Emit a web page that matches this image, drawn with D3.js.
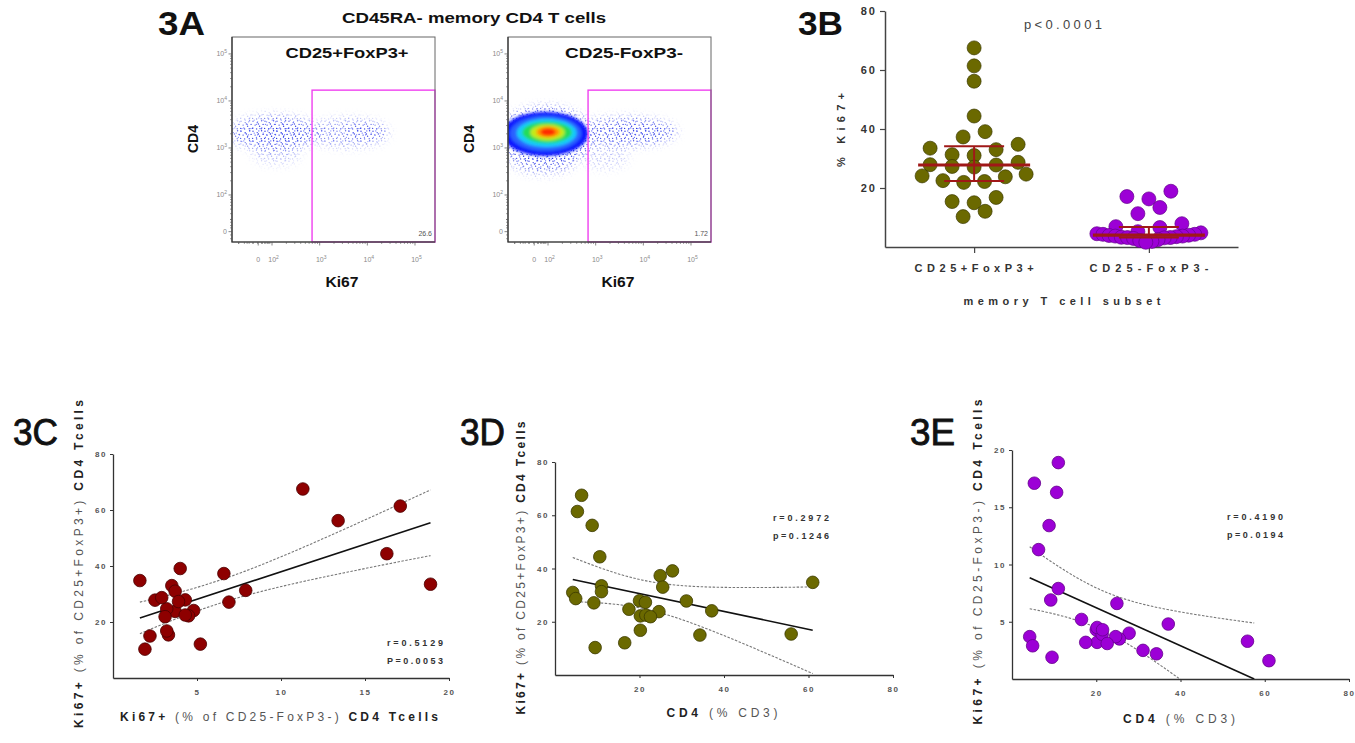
<!DOCTYPE html>
<html><head><meta charset="utf-8">
<script src="https://cdn.jsdelivr.net/npm/d3@7/dist/d3.min.js"></script>
<style>
html,body{margin:0;padding:0;background:#fff;}
svg{display:block;font-family:'Liberation Sans',Arial,Helvetica,sans-serif;}
</style></head><body>
<svg id="fig" width="1355" height="743" viewBox="0 0 1355 743"></svg>
<script>
// ================= DATA =================
const subsetLabels = ["CD25+FoxP3+", "CD25-FoxP3-"];
// one entry per subject
const cd4Pct    = [6.3, 5.3, 8.8, 10.6, 11.0, 61.0, 55.9, 37.1, 34.3, 31.1, 27.8, 24.9, 25.5, 24.6, 9.5, 16.5, 20.2, 17.5, 4.2, 4.9, 11.0, 9.2, 20.0, 21.4, 20.2, 21.5, 22.6];
const ki67Treg  = [67.5, 61.4, 56.2, 44.4, 33.5, 34.8, 15.4, 24.1, 15.0, 27.8, 39.1, 37.3, 33.0, 23.8, 10.3, 12.1, 16.8, 24.7, 31.0, 28.7, 31.3, 27.1, 27.9, 27.3, 22.2, 22.5, 21.9];
const ki67Tconv = [11.3, 17.1, 13.4, 16.3, 18.9, 1.6, 3.3, 4.8, 2.2, 2.5, 4.0, 6.6, 3.5, 3.7, 1.9, 5.2, 3.2, 3.2, 3.7, 2.9, 7.9, 6.9, 4.3, 3.9, 4.5, 4.3, 3.1];

const pctTicks = [20, 40, 60, 80];
const tconvTicks = [5, 10, 15, 20];
const cd4Ticks = [20, 40, 60, 80];
const statsC = ["r=0.5129", "P=0.0053"];
const statsD = ["r=0.2972", "p=0.1246"];
const statsE = ["r=0.4190", "p=0.0194"];
const pValueB = "p<0.0001";

// Flow cytometry (3A): axes in decade units (10^n -> n, biexponential zero near 1.7)
const flowXTickValues = [1.71, 2, 3, 4, 5];
const flowYTickValues = [1.22, 2, 3, 4, 5];
const flowTickExponents = [null, 2, 3, 4, 5];
const flowGate = [2.84, 4.23];              // Ki67 lower bound, CD4 upper bound
const gatePercents = ["26.6", "1.72"];
const flowTitles = ["CD25+FoxP3+", "CD25-FoxP3-"];
// event clouds: [Ki67, CD4, spread Ki67, spread CD4, relative density]
const tregClouds = [
  [2.05, 3.32, 0.95, 0.36, 0.85],
  [2.2, 3.32, 0.45, 0.17, 1.0],
  [3.6, 3.32, 0.85, 0.30, 0.6],
  [3.95, 3.36, 0.38, 0.14, 0.9],
  [2.1, 2.85, 0.5, 0.2, 0.35]
];
const tconvClouds = [
  [1.95, 3.25, 1.0, 0.62, 1.0],
  [3.6, 3.34, 1.1, 0.30, 0.85],
  [3.9, 3.36, 0.5, 0.18, 0.85],
  [1.9, 2.75, 0.7, 0.30, 0.65],
  [3.2, 2.8, 0.5, 0.25, 0.3]
];
// Tconv density contour levels, outer to inner: [Ki67, CD4, radius Ki67, radius CD4]
const tconvDensity = [
  [1.94, 3.30, 0.90, 0.47],
  [1.95, 3.31, 0.75, 0.38],
  [1.97, 3.32, 0.63, 0.30],
  [1.98, 3.33, 0.52, 0.23],
  [1.99, 3.33, 0.36, 0.17],
  [2.00, 3.34, 0.25, 0.12],
  [2.00, 3.34, 0.16, 0.08]
];

// ================= HELPERS =================
const svg = d3.select("#fig");
const defs = svg.append("defs");
const OLIVE = "#6b6900", OLIVE_S = "#3b3a00";
const PURPLE = "#9c00d6", PURPLE_S = "#64008c";
const RED = "#8e0000", RED_S = "#4a0000";
const BAR = "#a01818";
const T_CRIT = 2.0595; // Student t 0.975 quantile, df = n - 2 = 25

function txt(parent, o) {
  const t = parent.append("text")
    .attr("x", o.x).attr("y", o.y)
    .attr("text-anchor", o.anchor || "middle")
    .attr("font-size", o.size)
    .attr("fill", o.fill || "#222");
  if (o.rotate) t.attr("transform", `rotate(-90,${o.x},${o.y})`);
  const parts = Array.isArray(o.text) ? o.text : [[o.text, o.weight || "bold"]];
  parts.forEach(([s, w, f]) => t.append("tspan").attr("font-weight", w).attr("fill", f || null).text(s));
  if (o.len) t.attr("textLength", o.len).attr("lengthAdjust", o.adjust || "spacing");
  if (o.stroke) t.attr("stroke", o.fill || "#222").attr("stroke-width", o.stroke);
  return t;
}

function styleAxis(sel, o) {
  sel.attr("font-family", null).attr("font-size", o.size).attr("font-weight", "bold");
  sel.select(".domain").attr("stroke", o.stroke).attr("stroke-width", o.sw);
  sel.selectAll(".tick line").attr("stroke", o.stroke).attr("stroke-width", o.sw * 0.8);
  sel.selectAll(".tick text").attr("fill", o.fill).attr("letter-spacing", o.ls);
}

// ================= FLOW PANELS (3A) =================
const fb = defs.append("filter").attr("id", "blurMask").attr("x", "-60%").attr("y", "-60%").attr("width", "220%").attr("height", "220%");
fb.append("feGaussianBlur").attr("stdDeviation", 5);
const fl = defs.append("filter").attr("id", "blurLevel").attr("x", "-30%").attr("y", "-30%").attr("width", "160%").attr("height", "160%");
fl.append("feGaussianBlur").attr("stdDeviation", 1.4);

// speckle textures standing in for individual cytometry events
const pA = defs.append("pattern").attr("id", "speckA").attr("patternUnits", "userSpaceOnUse").attr("width", 12).attr("height", 10);
[[1, 1.2], [5.2, 2.6], [9.6, 0.8], [3.1, 5.1], [7.6, 6.2], [11.1, 4.4], [0.6, 8.4], [4.6, 8.9], [9.2, 8.7], [6.4, 4.0]].forEach(d =>
  pA.append("circle").attr("cx", d[0]).attr("cy", d[1]).attr("r", 0.7).attr("fill", "#1c28e0"));
const pB = defs.append("pattern").attr("id", "speckB").attr("patternUnits", "userSpaceOnUse").attr("width", 9).attr("height", 13);
[[2.2, 3.1], [6.8, 0.9], [4.4, 7.3], [0.8, 10.9], [7.9, 11.6], [5.6, 4.8]].forEach(d =>
  pB.append("circle").attr("cx", d[0]).attr("cy", d[1]).attr("r", 0.65).attr("fill", "#4a58ff"));

const densityColors = ["#0a14ff", "#2c62ff", "#14cdfa", "#22dc5a", "#c4ec12", "#ff9a00", "#ff2a00"];

function flowPlot(i, x0, clouds, levels) {
  const y0 = 37, w = 203, h = 205;
  const xs = d3.scaleLinear().domain([1.16, 5.42]).range([x0, x0 + w]);
  const ys = d3.scaleLinear().domain([1.0, 5.36]).range([y0 + h, y0]);
  const g = svg.append("g");
  defs.append("clipPath").attr("id", "fclip" + i).append("rect")
    .attr("x", x0).attr("y", y0).attr("width", w).attr("height", h);
  const m = defs.append("mask").attr("id", "fmask" + i).attr("maskUnits", "userSpaceOnUse")
    .attr("x", x0 - 30).attr("y", y0 - 30).attr("width", w + 60).attr("height", h + 60);
  m.append("g").attr("filter", "url(#blurMask)").selectAll("ellipse").data(clouds).join("ellipse")
    .attr("cx", d => xs(d[0])).attr("cy", d => ys(d[1]))
    .attr("rx", d => xs(d[0] + d[2]) - xs(d[0])).attr("ry", d => ys(d[1]) - ys(d[1] + d[3]))
    .attr("fill", "#fff").attr("fill-opacity", d => d[4]);
  const inner = g.append("g").attr("clip-path", `url(#fclip${i})`);
  ["speckA", "speckB"].forEach(p => inner.append("rect")
    .attr("x", x0).attr("y", y0).attr("width", w).attr("height", h)
    .attr("fill", `url(#${p})`).attr("mask", `url(#fmask${i})`));
  inner.append("g").attr("filter", "url(#blurLevel)").selectAll("ellipse").data(levels).join("ellipse")
    .attr("cx", d => xs(d[0])).attr("cy", d => ys(d[1]))
    .attr("rx", d => xs(d[0] + d[2]) - xs(d[0])).attr("ry", d => ys(d[1]) - ys(d[1] + d[3]))
    .attr("fill", (d, j) => densityColors[j]);

  // gate
  g.append("rect")
    .attr("x", xs(flowGate[0])).attr("y", ys(flowGate[1]))
    .attr("width", xs.range()[1] - xs(flowGate[0])).attr("height", ys(1.0) - ys(flowGate[1]))
    .attr("fill", "none").attr("stroke", "#f040f0").attr("stroke-width", 1.4);
  // frame
  g.append("rect").attr("x", x0).attr("y", y0).attr("width", w).attr("height", h)
    .attr("fill", "none").attr("stroke", "#666").attr("stroke-width", 1);
  g.append("path").attr("d", `M${x0},${y0}V${y0 + h}H${x0 + w}`).attr("fill", "none").attr("stroke", "#333").attr("stroke-width", 1.2);

  // ticks
  const tk = g.append("g").attr("stroke", "#555").attr("stroke-width", 0.7);
  const minor = [];
  [1, 2, 3, 4].forEach(n => d3.range(2, 10).forEach(k => minor.push(n + Math.log10(k))));
  const nearZero = [1.3, 1.42, 1.52, 1.6, 1.8, 1.87, 1.93];
  minor.concat(nearZero).filter(v => v > 1.16 && v < 5.42).forEach(v =>
    tk.append("line").attr("x1", xs(v)).attr("x2", xs(v)).attr("y1", y0 + h).attr("y2", y0 + h + 1.8));
  minor.concat(nearZero.map(v => v - 0.45)).filter(v => v > 1.02 && v < 5.36).forEach(v =>
    tk.append("line").attr("y1", ys(v)).attr("y2", ys(v)).attr("x1", x0).attr("x2", x0 - 1.8));
  flowXTickValues.forEach(v =>
    tk.append("line").attr("x1", xs(v)).attr("x2", xs(v)).attr("y1", y0 + h).attr("y2", y0 + h + 3.5));
  flowYTickValues.forEach(v =>
    tk.append("line").attr("y1", ys(v)).attr("y2", ys(v)).attr("x1", x0).attr("x2", x0 - 3.5));

  const lab = (x, y, e, anchor) => {
    const t = g.append("text").attr("x", x).attr("y", y).attr("font-size", 7).attr("fill", "#8a8a8a").attr("text-anchor", anchor);
    if (e === null) t.text("0");
    else { t.append("tspan").text("10"); t.append("tspan").attr("font-size", 5).attr("dy", -3).text(e); }
  };
  flowXTickValues.forEach((v, j) => lab(xs(v) + (j === 0 ? 0 : 1.5), 262, flowTickExponents[j], "middle"));
  flowYTickValues.forEach((v, j) => lab(x0 - 5, ys(v) + 2.5, flowTickExponents[j], "end"));

  // gate %
  g.append("text").attr("x", xs.range()[1] - 3).attr("y", 236).attr("text-anchor", "end")
    .attr("font-size", 7).attr("fill", "#555").text(gatePercents[i]);
  // titles
  txt(g, { x: x0 + (i === 0 ? 115 : 116), y: 58, text: flowTitles[i], size: 15, len: i === 0 ? 123 : 118, adjust: "spacingAndGlyphs", fill: "#111" });
  txt(g, { x: x0 - 34, y: 139, text: "CD4", size: 14, rotate: true, fill: "#111" });
  txt(g, { x: x0 + 110, y: 287, text: "Ki67", size: 14, len: 33, adjust: "spacingAndGlyphs", fill: "#111" });
}

flowPlot(0, 232, tregClouds, []);
flowPlot(1, 508, tconvClouds, tconvDensity);
txt(svg, { x: 474, y: 23, text: "CD45RA- memory CD4 T cells", size: 15, len: 264, adjust: "spacingAndGlyphs", fill: "#111" });
txt(svg, { x: 158, y: 35, text: "3A", size: 34, anchor: "start", len: 47, adjust: "spacingAndGlyphs", fill: "#111" });

// ================= 3B =================
(function () {
  const g = svg.append("g");
  const yB = d3.scaleLinear().domain([0, 80]).range([247, 11]);
  const xB = d3.scalePoint().domain(subsetLabels).range([885, 1238]).padding(0.51);
  const ay = g.append("g").attr("transform", "translate(885,0)")
    .call(d3.axisLeft(yB).tickValues(pctTicks).tickSize(5).tickSizeOuter(0).tickPadding(3));
  styleAxis(ay, { size: 11, stroke: "#444", sw: 1.5, fill: "#333", ls: 2 });
  const ax = g.append("g").attr("transform", "translate(0,247)")
    .call(d3.axisBottom(xB).tickSize(6).tickSizeOuter(0).tickFormat(""));
  styleAxis(ax, { size: 11, stroke: "#444", sw: 1.5, fill: "#333", ls: 0 });

  subsetLabels.forEach(s => txt(g, { x: xB(s), y: 272, text: s, size: 11, len: 119, fill: "#333" }));
  txt(g, { x: 1062, y: 305, text: "memory T cell subset", size: 11, len: 197, fill: "#333" });
  txt(g, { x: 845, y: 130, text: "% Ki67+", size: 11, len: 74, rotate: true, fill: "#333" });
  txt(g, { x: 1063, y: 29, text: pValueB, size: 13, weight: "normal", len: 78, fill: "#444" });

  // Prism-style scatter: values binned in rows of 5 units, lowest value centred in each row
  function rowScatter(values, cx) {
    const out = [];
    d3.groups(values, v => Math.floor(v / 5)).forEach(([, vs]) => {
      vs = vs.slice().sort(d3.ascending);
      const n = vs.length;
      const sp = n > 1 ? Math.min(22, 104 / (n - 1)) : 0;
      const offs = d3.range(n).map(j => (j - (n - 1) / 2) * sp)
        .sort((a, b) => (Math.abs(a) - Math.abs(b)) || (a - b));
      vs.forEach((v, j) => out.push({ x: cx + offs[j], y: yB(v) }));
    });
    return out.sort((a, b) => a.y - b.y);
  }
  const groups = [
    { vals: ki67Treg, fill: OLIVE, stroke: OLIVE_S },
    { vals: ki67Tconv, fill: PURPLE, stroke: PURPLE_S }
  ];
  groups.forEach((gr, gi) => {
    const cx = xB(subsetLabels[gi]);
    const pts = rowScatter(gr.vals, cx);
    g.append("g").selectAll("circle").data(pts).join("circle")
      .attr("cx", d => d.x).attr("cy", d => d.y).attr("r", 7)
      .attr("fill", gr.fill).attr("stroke", gr.stroke).attr("stroke-width", 0.7);
    const sorted = gr.vals.slice().sort(d3.ascending);
    const med = d3.quantile(sorted, 0.5), q1 = d3.quantile(sorted, 0.25), q3 = d3.quantile(sorted, 0.75);
    const b = g.append("g").attr("stroke", BAR).attr("fill", "none");
    b.append("line").attr("x1", cx - 56).attr("x2", cx + 56).attr("y1", yB(med)).attr("y2", yB(med)).attr("stroke-width", 3.2);
    b.append("line").attr("x1", cx).attr("x2", cx).attr("y1", yB(q1)).attr("y2", yB(q3)).attr("stroke-width", 2);
    [q1, q3].forEach(q => b.append("line").attr("x1", cx - 30).attr("x2", cx + 30).attr("y1", yB(q)).attr("y2", yB(q)).attr("stroke-width", 2));
  });
  txt(g, { x: 798, y: 35, text: "3B", size: 34, anchor: "start", len: 45, adjust: "spacingAndGlyphs", fill: "#111" });
})();

// ================= 3C / 3D / 3E =================
function linFit(xv, yv) {
  const n = xv.length, mx = d3.mean(xv), my = d3.mean(yv);
  let sxx = 0, sxy = 0;
  xv.forEach((x, i) => { sxx += (x - mx) ** 2; sxy += (x - mx) * (yv[i] - my); });
  const b = sxy / sxx, a = my - b * mx;
  let sse = 0;
  xv.forEach((x, i) => { sse += (yv[i] - a - b * x) ** 2; });
  return { a, b, n, mx, sxx, s: Math.sqrt(sse / (n - 2)) };
}

function scatterPanel(p) {
  const g = svg.append("g");
  const xs = d3.scaleLinear().domain(p.xDomain).range(p.xRange);
  const ys = d3.scaleLinear().domain(p.yDomain).range(p.yRange);
  const clipId = "clip" + p.id;
  defs.append("clipPath").attr("id", clipId).append("rect")
    .attr("x", p.xRange[0]).attr("y", p.yRange[1] - 20)
    .attr("width", p.xRange[1] - p.xRange[0]).attr("height", p.yRange[0] - p.yRange[1] + 20);

  const axStyle = { size: 8, stroke: "#333", sw: 1.3, fill: "#555", ls: 1.5 };
  const ax = g.append("g").attr("transform", `translate(0,${p.yRange[0]})`)
    .call(d3.axisBottom(xs).tickValues(p.xTicks).tickSize(3).tickSizeOuter(0).tickPadding(8));
  styleAxis(ax, axStyle);
  const ay = g.append("g").attr("transform", `translate(${p.xRange[0]},0)`)
    .call(d3.axisLeft(ys).tickValues(p.yTicks).tickSize(3).tickSizeOuter(0).tickPadding(3));
  styleAxis(ay, axStyle);

  const fit = linFit(p.x, p.y);
  const x0 = d3.min(p.x);
  let x1 = d3.max(p.x);
  if (fit.b < 0) { const xz = (p.yDomain[0] - fit.a) / fit.b; if (xz < x1) x1 = xz; }
  const xsamp = d3.range(0, 81).map(i => x0 + (x1 - x0) * i / 80);
  const band = sgn => xsamp.map(x => [x, fit.a + fit.b * x + sgn * T_CRIT * fit.s * Math.sqrt(1 / fit.n + (x - fit.mx) ** 2 / fit.sxx)]);
  const line = d3.line().x(d => xs(d[0])).y(d => ys(d[1]));
  const lg = g.append("g").attr("clip-path", `url(#${clipId})`).attr("fill", "none");
  [1, -1].forEach(s => lg.append("path").attr("d", line(band(s)))
    .attr("stroke", "#777").attr("stroke-width", 1.1).attr("stroke-dasharray", "2.5,1.5"));
  lg.append("path").attr("d", line([[x0, fit.a + fit.b * x0], [x1, fit.a + fit.b * x1]]))
    .attr("stroke", "#111").attr("stroke-width", 1.6);

  g.append("g").selectAll("circle").data(d3.range(p.x.length)).join("circle")
    .attr("cx", i => xs(p.x[i])).attr("cy", i => ys(p.y[i])).attr("r", p.r)
    .attr("fill", p.fill).attr("stroke", p.stroke).attr("stroke-width", 0.8);

  p.stats.forEach((s, i) => txt(g, { x: p.statsX, y: p.statsY + i * 17.5, text: s, size: 9, anchor: "start", len: 56, fill: "#333" }));
  txt(g, { x: p.xTitle[0], y: p.xTitle[1], text: p.xTitle[2], size: 12, len: p.xTitle[3], fill: "#222" });
  txt(g, { x: p.yTitle[0], y: p.yTitle[1], text: p.yTitle[2], size: 12, len: p.yTitle[3], rotate: true, fill: "#222" });
  txt(g, { x: p.label[0], y: 445, text: p.label[1], size: 37, weight: "normal", anchor: "start", len: 45, adjust: "spacingAndGlyphs", fill: "#111", stroke: 0.9 });
}

const titleTreg = [["Ki67+ ", "bold"], ["(% of CD25+FoxP3+) ", "normal", "#555"], ["CD4 Tcells", "bold"]];
const titleTconv = [["Ki67+ ", "bold"], ["(% of CD25-FoxP3-) ", "normal", "#555"], ["CD4 Tcells", "bold"]];
const titleCd4 = [["CD4 ", "bold"], ["(% CD3)", "normal", "#555"]];

scatterPanel({
  id: "C", x: ki67Tconv, y: ki67Treg, xDomain: [0, 20], yDomain: [0, 80],
  xRange: [113, 449], yRange: [678, 454], xTicks: tconvTicks, yTicks: pctTicks,
  r: 6.3, fill: RED, stroke: RED_S, stats: statsC, statsX: 387, statsY: 646,
  xTitle: [279, 721, titleTconv, 318], yTitle: [83, 564, titleTreg, 328], label: [13, "3C"]
});
scatterPanel({
  id: "D", x: cd4Pct, y: ki67Treg, xDomain: [0, 80], yDomain: [0, 80],
  xRange: [555, 893], yRange: [675, 462], xTicks: cd4Ticks, yTicks: pctTicks,
  r: 6.3, fill: OLIVE, stroke: OLIVE_S, stats: statsD, statsX: 773, statsY: 521,
  xTitle: [722, 717, titleCd4, 111], yTitle: [525, 568, titleTreg, 293], label: [460, "3D"]
});
scatterPanel({
  id: "E", x: cd4Pct, y: ki67Tconv, xDomain: [0, 80], yDomain: [0, 20],
  xRange: [1012, 1349], yRange: [679, 450], xTicks: cd4Ticks, yTicks: tconvTicks,
  r: 6.3, fill: PURPLE, stroke: PURPLE_S, stats: statsE, statsX: 1227, statsY: 520,
  xTitle: [1179, 723, titleCd4, 112], yTitle: [982, 562, titleTconv, 325], label: [910, "3E"]
});
</script>
</body></html>
